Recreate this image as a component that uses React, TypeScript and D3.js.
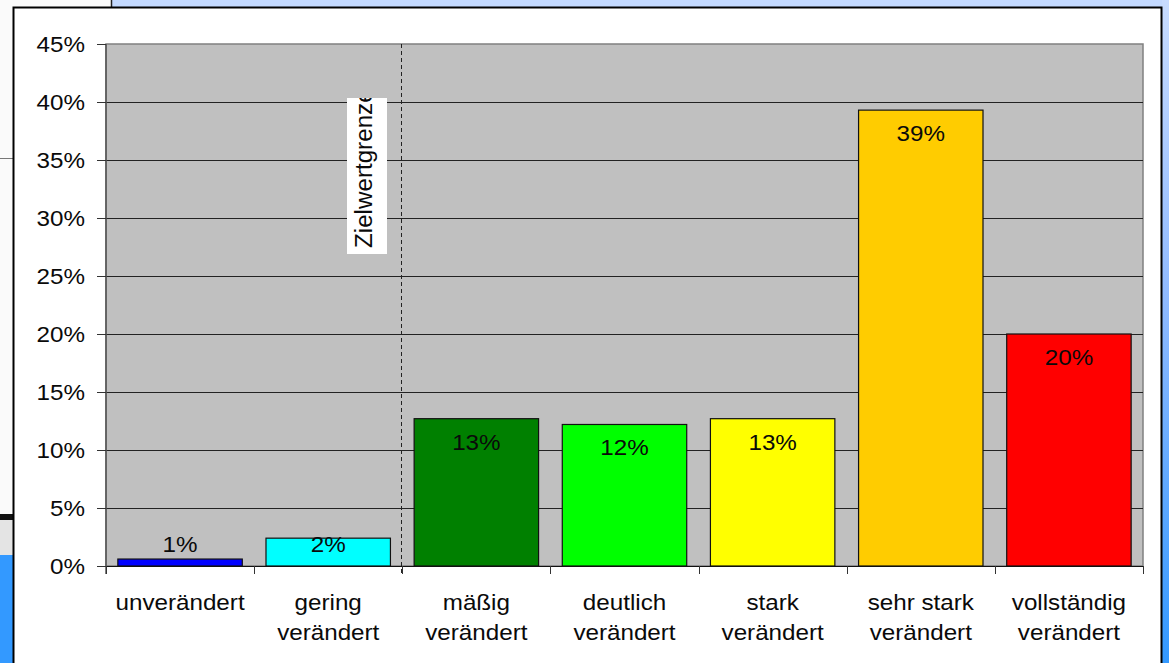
import React from 'react';
import * as d3 from 'd3';

// Daten aus der Vorlage
const categories: string[][] = [
  ['unverändert'],
  ['gering', 'verändert'],
  ['mäßig', 'verändert'],
  ['deutlich', 'verändert'],
  ['stark', 'verändert'],
  ['sehr stark', 'verändert'],
  ['vollständig', 'verändert'],
];
const values: number[] = [0.6, 2.4, 12.7, 12.2, 12.7, 39.3, 20.0];
const valueLabels: string[] = ['1%', '2%', '13%', '12%', '13%', '39%', '20%'];
const barColors: string[] = ['#0000ff', '#00ffff', '#008000', '#00ff00', '#ffff00', '#ffcc00', '#ff0000'];
const yTicks: number[] = [0, 5, 10, 15, 20, 25, 30, 35, 40, 45];
const markerLabel = 'Zielwertgrenze';
const markerAfter = 2; // Grenze nach der zweiten Kategorie

const W = 1169;
const H = 663;
const plot = { left: 106, right: 1143, top: 44, bottom: 566 };
const FONT = '"Liberation Sans", Arial, sans-serif';
const SX = 1.1; // Vorlage ist leicht horizontal gestreckt

// Text mit horizontaler Streckung
const Txt = ({ x, y, anchor = 'middle', children }: { x: number; y: number; anchor?: string; children: React.ReactNode }) => (
  <text
    transform={`translate(${x},${y}) scale(${SX},1)`}
    textAnchor={anchor}
    fontFamily={FONT}
    fontSize={22}
    fill="#0a0a0a"
  >
    {children}
  </text>
);

const App: React.FC = () => {
  const keys = categories.map((_, i) => String(i));

  const x = d3.scaleBand<string>()
    .domain(keys)
    .range([plot.left, plot.right])
    .paddingInner(0.16)
    .paddingOuter(0.08);

  const step = x.step();
  const bandStart = (i: number) => x(keys[i])! - step * 0.08;

  const y = d3.scaleLinear()
    .domain([0, 45])
    .range([plot.bottom, plot.top]);

  const markerX = Math.round(bandStart(markerAfter)) - 1;

  return (
    <div style={{ position: 'fixed', left: 0, top: 0, width: W, height: H }}>
      <svg width={W} height={H} style={{ display: 'block' }}>
        <defs>
          <linearGradient id="rightStrip" x1="0" y1="0" x2="0" y2="1">
            <stop offset="0" stopColor="#c8dcff" />
            <stop offset="0.45" stopColor="#8fbaff" />
            <stop offset="1" stopColor="#3399ff" />
          </linearGradient>
          <clipPath id="labelClip">
            <rect x={347} y={98} width={40} height={156} />
          </clipPath>
        </defs>

        {/* Hintergrund ausserhalb des Diagramms */}
        <rect x={0} y={0} width={W} height={H} fill="#fafafa" />
        <rect x={112} y={0} width={W - 112} height={8} fill="#c3d9ff" />
        <line x1={111.5} y1={0} x2={111.5} y2={8} stroke="#222" strokeWidth={1.5} />
        <rect x={1162} y={0} width={7} height={H} fill="url(#rightStrip)" />
        <line x1={0} y1={158.5} x2={14} y2={158.5} stroke="#777" strokeWidth={1} />
        <rect x={0} y={514} width={14} height={6} fill="#111" />
        <rect x={0} y={520} width={14} height={35} fill="#e4e4e4" />
        <rect x={0} y={555} width={14} height={H - 555} fill="#3399ff" />

        {/* weisser Diagrammbereich */}
        <rect x={13.5} y={7.5} width={1148} height={H} fill="#ffffff" stroke="#000" strokeWidth={2} />

        {/* Zeichenfläche */}
        <rect
          x={plot.left}
          y={plot.top}
          width={plot.right - plot.left}
          height={plot.bottom - plot.top}
          fill="#c0c0c0"
          stroke="#808080"
          strokeWidth={1.5}
        />

        {/* Gitterlinien */}
        {yTicks.filter(t => t > 0 && t < 45).map(t => (
          <line
            key={t}
            x1={plot.left}
            x2={plot.right}
            y1={Math.round(y(t)) + 0.5}
            y2={Math.round(y(t)) + 0.5}
            stroke="#222"
            strokeWidth={1}
          />
        ))}

        {/* Y-Achse */}
        <line x1={plot.left} x2={plot.left} y1={plot.top} y2={plot.bottom + 8} stroke="#555" strokeWidth={1.5} />
        {yTicks.map(t => (
          <g key={t}>
            <line x1={plot.left - 9} x2={plot.left} y1={Math.round(y(t)) + 0.5} y2={Math.round(y(t)) + 0.5} stroke="#333" />
            <Txt x={85} y={y(t) + 8} anchor="end">{`${t}%`}</Txt>
          </g>
        ))}

        {/* Grenzlinie */}
        <line
          x1={markerX + 0.5}
          x2={markerX + 0.5}
          y1={plot.top}
          y2={plot.bottom + 9}
          stroke="#222"
          strokeWidth={1}
          strokeDasharray="4,3"
        />

        {/* Balken */}
        {values.map((v, i) => (
          <rect
            key={i}
            x={x(keys[i])!}
            y={y(v)}
            width={x.bandwidth()}
            height={y(0) - y(v)}
            fill={barColors[i]}
            stroke="#111"
            strokeWidth={1.2}
          />
        ))}

        {/* X-Achse */}
        <line x1={plot.left} x2={plot.right} y1={plot.bottom + 0.5} y2={plot.bottom + 0.5} stroke="#111" strokeWidth={1.2} />
        {d3.range(keys.length + 1).map(i => {
          const bx = Math.round(i < keys.length ? bandStart(i) : plot.right) + 0.5;
          return <line key={i} x1={bx} x2={bx} y1={plot.bottom} y2={plot.bottom + 8} stroke="#333" />;
        })}

        {/* Werte */}
        {values.map((v, i) => (
          <Txt key={i} x={x(keys[i])! + x.bandwidth() / 2} y={Math.min(y(v) + 31, 552)}>
            {valueLabels[i]}
          </Txt>
        ))}

        {/* Kategorien */}
        {categories.map((lines, i) => (
          <g key={i}>
            {lines.map((ln, j) => (
              <Txt key={j} x={x(keys[i])! + x.bandwidth() / 2} y={610 + j * 30}>
                {ln}
              </Txt>
            ))}
          </g>
        ))}

        {/* Beschriftung Zielwertgrenze */}
        <rect x={347} y={98} width={40} height={156} fill="#ffffff" />
        <g clipPath="url(#labelClip)">
          <text
            transform="translate(372,248) rotate(-90) scale(1.1,1.1)"
            fontFamily={FONT}
            fontSize={22}
            fill="#0a0a0a"
          >
            {markerLabel}
          </text>
        </g>
      </svg>
    </div>
  );
};

export default App;
